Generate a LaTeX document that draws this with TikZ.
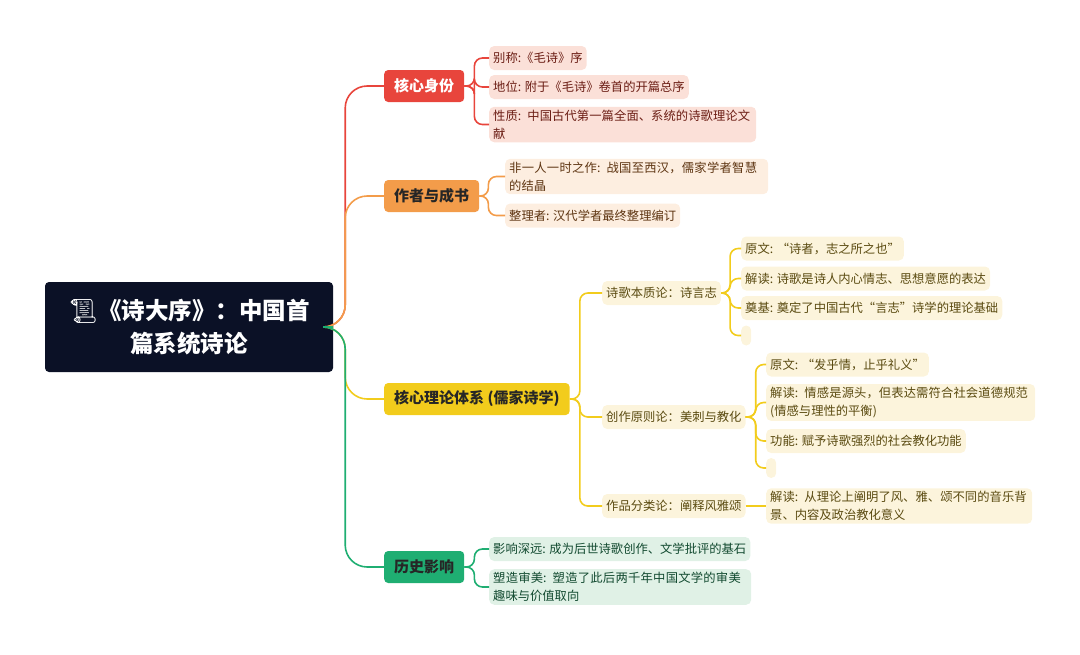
\documentclass[tikz,border=0pt]{standalone}
\usepackage{fontspec}
\setmainfont{Noto Sans CJK SC}
\newfontfamily\emojifont{Noto Emoji}
\XeTeXlinebreaklocale "zh"
\XeTeXlinebreakskip=0pt plus 1pt
\definecolor{rootbg}{HTML}{0B1126}
\definecolor{redmain}{HTML}{E8453C}
\definecolor{redleaf}{HTML}{FBE0D8}
\definecolor{redtext}{HTML}{6B1D14}
\definecolor{orgmain}{HTML}{F39C4A}
\definecolor{orgleaf}{HTML}{FDEEE0}
\definecolor{orgtext}{HTML}{5E3512}
\definecolor{ylwmain}{HTML}{F2CC1C}
\definecolor{ylwleaf}{HTML}{FCF4DC}
\definecolor{ylwtext}{HTML}{5A4A10}
\definecolor{grnmain}{HTML}{1FAE72}
\definecolor{grnleaf}{HTML}{E0F1E6}
\definecolor{grntext}{HTML}{124A30}
\tikzset{
  root/.style={fill=rootbg,text=white,rounded corners=4,align=center,
    font=\fontsize{23.5}{33}\selectfont\bfseries,minimum width=288,minimum height=90},
  branch/.style={fill=#1,rounded corners=4,minimum height=32,inner xsep=10,
    font=\fontsize{15}{18}\selectfont\bfseries,anchor=west},
  leaf/.style={rounded corners=5,minimum height=24,inner xsep=4,inner ysep=3,
    align=left,anchor=west,font=\fontsize{12.3}{18}\selectfont},
  gap/.style={rounded corners=5,minimum height=20,minimum width=10,inner sep=0,anchor=west},
  link/.style={line width=1.6,draw=#1,rounded corners=8},
  trunk/.style={line width=1.6,draw=#1,rounded corners=22}
}
\begin{document}
\begin{tikzpicture}[x=1pt,y=-1pt]
  \useasboundingbox (0,0) rectangle (1080,654);
  % root
  \node[root] (rt) at (189,327) {{\emojifont 📜}《诗大序》：中国首\\篇系统诗论};
  % main branches
  \node[branch=redmain,text=white] (b1) at (384,86) {核心身份};
  \node[branch=orgmain,text=black!85] (b2) at (384,196) {作者与成书};
  \node[branch=ylwmain,text=black!85] (b3) at (384,399) {核心理论体系 (儒家诗学)};
  \node[branch=grnmain,text=black!85] (b4) at (384,567) {历史影响};
  \draw[trunk=redmain] (rt.east) -- ++(12,0) |- (b1.west);
  \draw[trunk=orgmain] (rt.east) -- ++(12,0) |- (b2.west);
  \draw[trunk=ylwmain] (rt.east) -- ++(12,0) |- (b3.west);
  \draw[trunk=grnmain] (rt.east) -- ++(12,0) |- (b4.west);
  % red leaves
  \node[leaf,fill=redleaf,text=redtext] (r1) at (489,58) {别称:《毛诗》序};
  \node[leaf,fill=redleaf,text=redtext] (r2) at (489,87) {地位: 附于《毛诗》卷首的开篇总序};
  \node[leaf,fill=redleaf,text=redtext,text width=259] (r3) at (489,124.5) {性质: 中国古代第一篇全面、系统的诗歌理论文献};
  \foreach \n in {r1,r2,r3}
    \draw[link=redmain] (b1.east) -- ++(10,0) |- (\n.west);
  % orange leaves
  \node[leaf,fill=orgleaf,text=orgtext,text width=255] (o1) at (505,176.5) {非一人一时之作: 战国至西汉，儒家学者智慧的结晶};
  \node[leaf,fill=orgleaf,text=orgtext] (o2) at (505,215.5) {整理者: 汉代学者最终整理编订};
  \foreach \n in {o1,o2}
    \draw[link=orgmain] (b2.east) -- ++(9,0) |- (\n.west);
  % yellow sub branches
  \node[leaf,fill=ylwleaf,text=ylwtext] (y1) at (602,293) {诗歌本质论：诗言志};
  \node[leaf,fill=ylwleaf,text=ylwtext] (y2) at (602,417) {创作原则论：美刺与教化};
  \node[leaf,fill=ylwleaf,text=ylwtext] (y3) at (602,506) {作品分类论：阐释风雅颂};
  \foreach \n in {y1,y2,y3}
    \draw[link=ylwmain] (b3.east) -- ++(10,0) |- (\n.west);
  \node[leaf,fill=ylwleaf,text=ylwtext] (y11) at (741,248.5) {原文: “诗者，志之所之也”};
  \node[leaf,fill=ylwleaf,text=ylwtext] (y12) at (741,278.5) {解读: 诗歌是诗人内心情志、思想意愿的表达};
  \node[leaf,fill=ylwleaf,text=ylwtext] (y13) at (741,308) {奠基: 奠定了中国古代“言志”诗学的理论基础};
  \node[gap,fill=ylwleaf] (y14) at (741,335.5) {};
  \foreach \n in {y11,y12,y13,y14}
    \draw[link=ylwmain] (y1.east) -- ++(9,0) |- (\n.west);
  \node[leaf,fill=ylwleaf,text=ylwtext] (y21) at (766,364.5) {原文: “发乎情，止乎礼义”};
  \node[leaf,fill=ylwleaf,text=ylwtext,text width=261] (y22) at (766,402.5) {解读: 情感是源头，但表达需符合社会道德规范(情感与理性的平衡)};
  \node[leaf,fill=ylwleaf,text=ylwtext] (y23) at (766,441) {功能: 赋予诗歌强烈的社会教化功能};
  \node[gap,fill=ylwleaf] (y24) at (766,468) {};
  \foreach \n in {y21,y22,y23,y24}
    \draw[link=ylwmain] (y2.east) -- ++(10,0) |- (\n.west);
  \node[leaf,fill=ylwleaf,text=ylwtext,text width=258] (y31) at (766,506) {解读: 从理论上阐明了风、雅、颂不同的音乐背景、内容及政治教化意义};
  \draw[link=ylwmain] (y3.east) -- (y31.west);
  % green leaves
  \node[leaf,fill=grnleaf,text=grntext] (g1) at (489,549) {影响深远: 成为后世诗歌创作、文学批评的基石};
  \node[leaf,fill=grnleaf,text=grntext,text width=254] (g2) at (489,587) {塑造审美: 塑造了此后两千年中国文学的审美趣味与价值取向};
  \foreach \n in {g1,g2}
    \draw[link=grnmain] (b4.east) -- ++(10,0) |- (\n.west);
\end{tikzpicture}
\end{document}
